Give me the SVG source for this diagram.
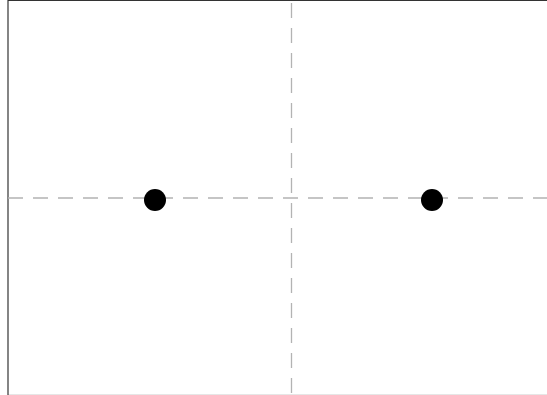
<svg xmlns="http://www.w3.org/2000/svg" width="547" height="395" viewBox="0 0 547 395">
  <style>
    .frame { stroke: #333; stroke-width: 1.2; fill: none; }
    .base { stroke: #e6e6e6; stroke-width: 1; fill: none; }
    .guide { stroke: #b3b3b3; stroke-width: 1.3; stroke-dasharray: 15 10; fill: none; }
    .dot { fill: #000; }
  </style>
  <rect width="547" height="395" fill="#fff"/>
  <g id="frame">
    <line class="base" x1="8" y1="394.5" x2="547" y2="394.5"/>
    <line class="frame" x1="8" y1="0.5" x2="547" y2="0.5"/>
    <line class="frame" x1="8" y1="0" x2="8" y2="395"/>
  </g>
  <g id="connectors">
    <line class="guide" x1="291.5" y1="3" x2="291.5" y2="395"/>
    <line class="guide" x1="8" y1="198" x2="547" y2="198"/>
  </g>
  <g id="point-left">
    <circle class="dot" cx="155" cy="200" r="11"/>
  </g>
  <g id="point-right">
    <circle class="dot" cx="432" cy="200" r="11"/>
  </g>
</svg>
